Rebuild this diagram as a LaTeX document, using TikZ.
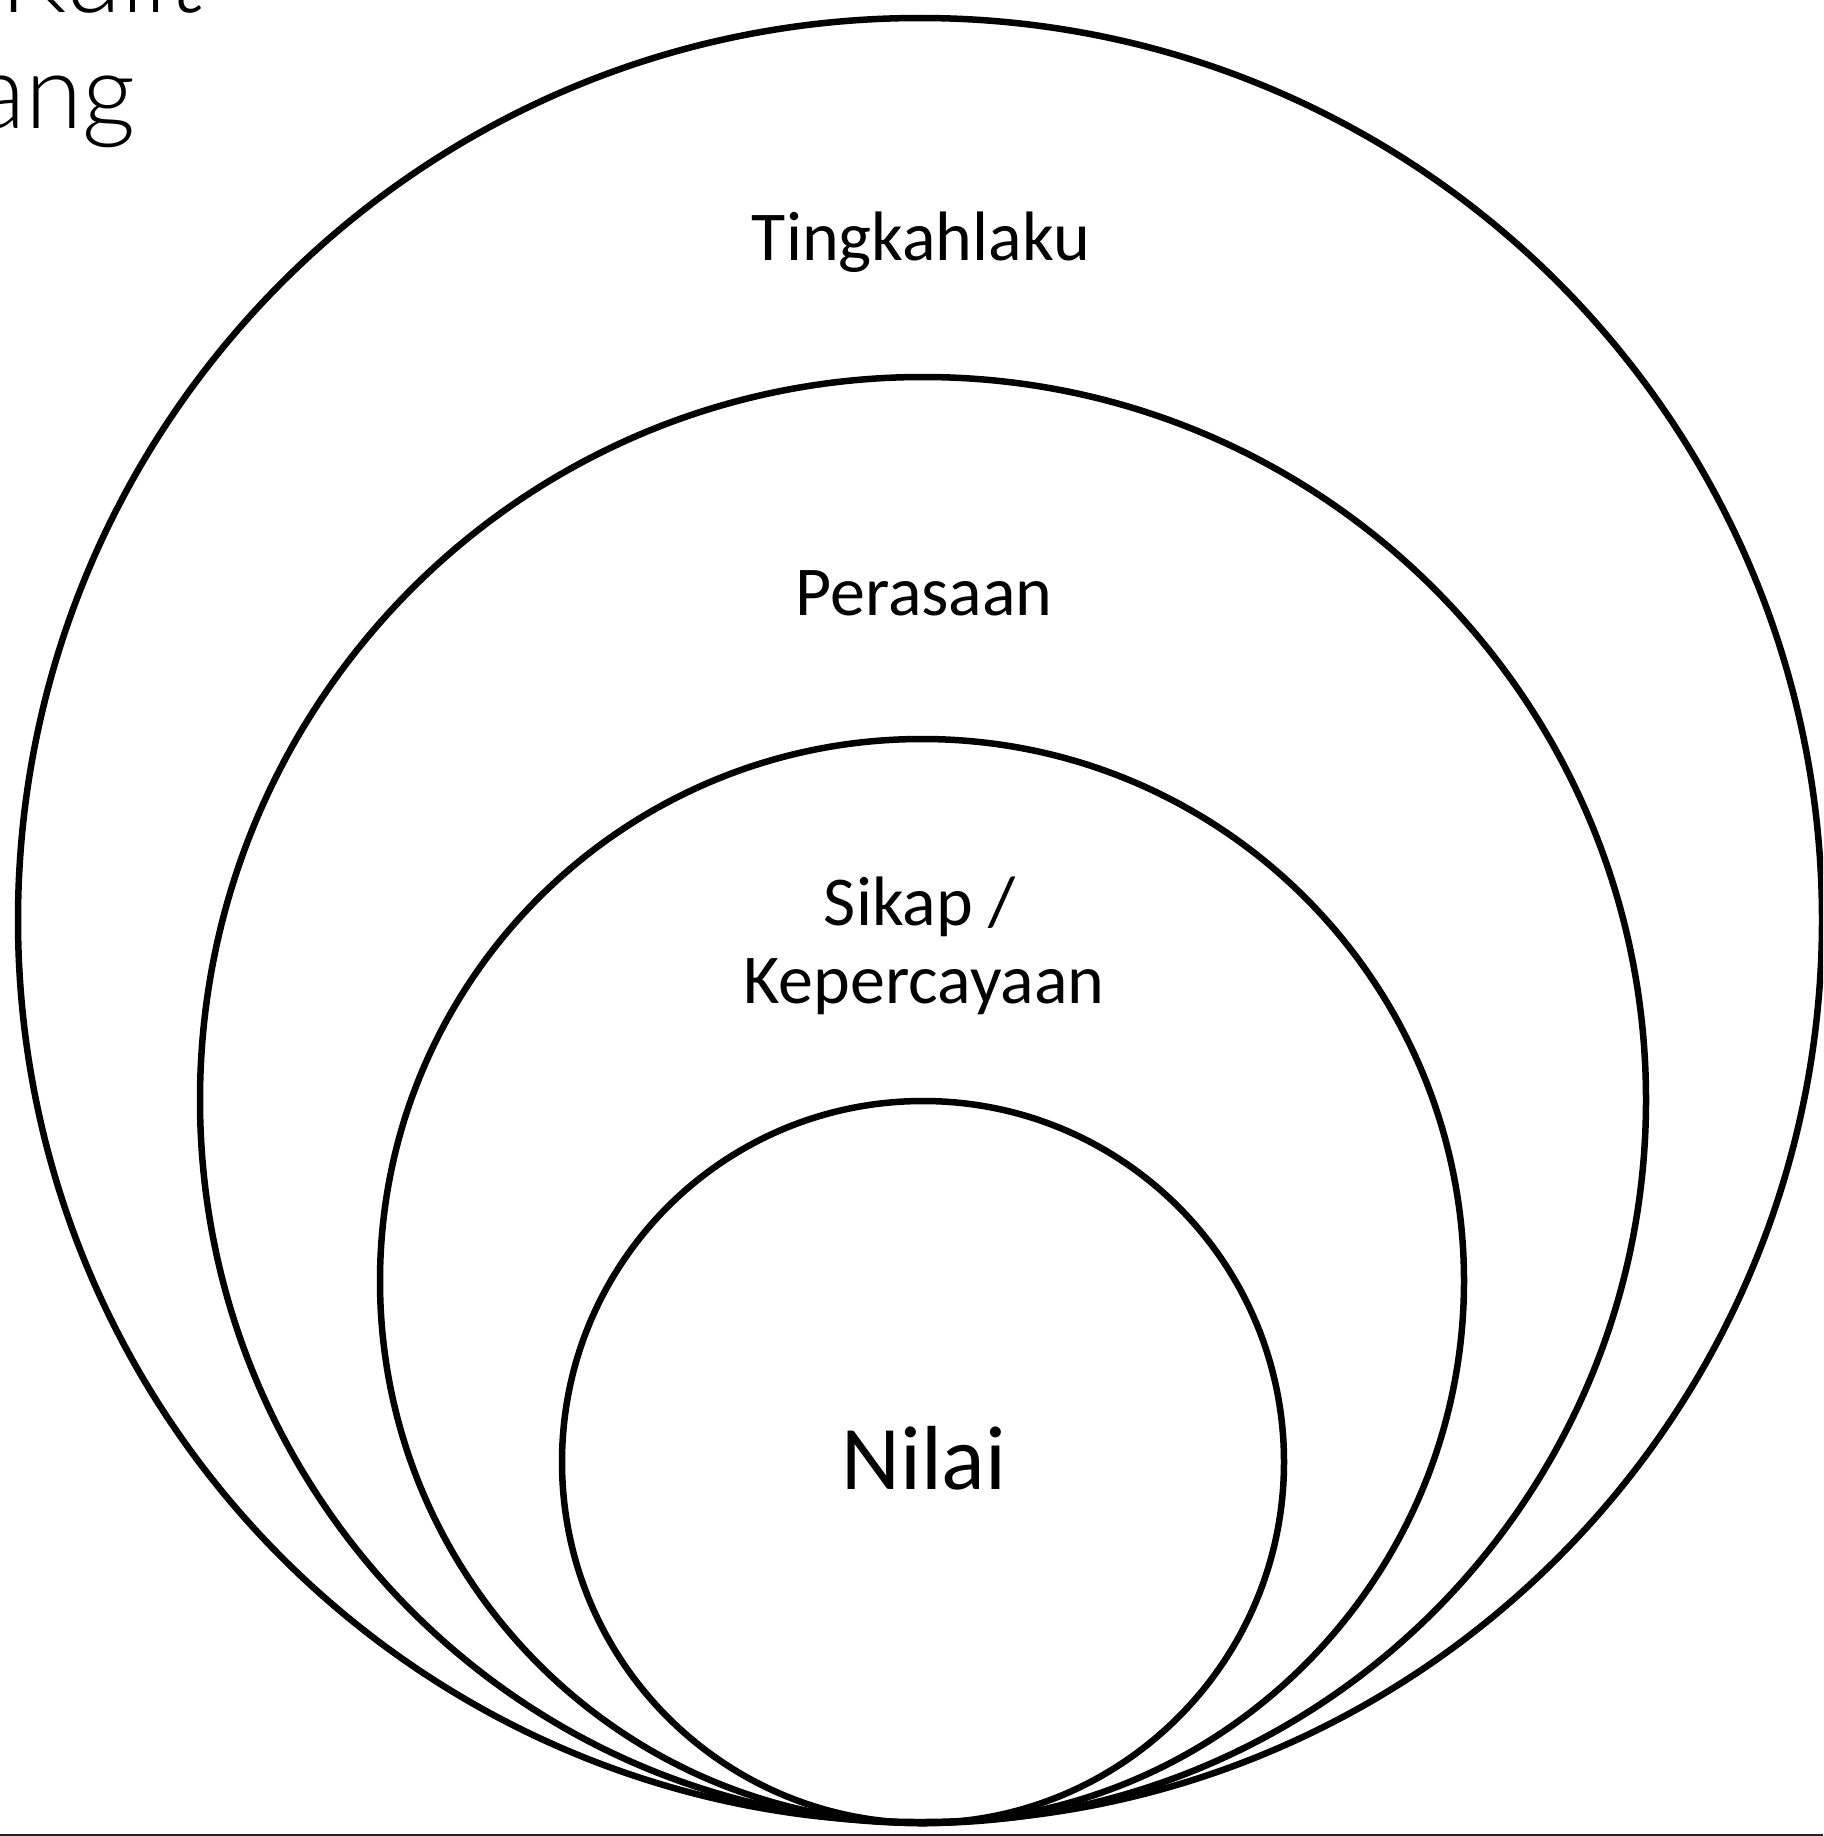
\documentclass[tikz,border=0pt]{standalone}
\usepackage{fontspec}
\setmainfont{Carlito}
\newfontfamily\titlefont{Lato}[UprightFont=* Light]
\begin{document}
\begin{tikzpicture}[x=1pt,y=-1pt,
  ring/.style={draw=black,line width=6.5pt},
  label/.style={anchor=base,inner sep=0pt,font=\fontsize{70}{80}\selectfont},
  core/.style={anchor=base,inner sep=0pt,font=\fontsize{91}{100}\selectfont},
  heading/.style={anchor=base east,inner sep=0pt,font=\titlefont\fontsize{104}{115}\selectfont}]
\useasboundingbox (0,0) rectangle (1823,1836);
\clip (0,0) rectangle (1823,1836);
\fill[white] (0,0) rectangle (1823,1836);

% heading, partly cut off at the page corner
\node[heading] (kulit) at (203,13) {Kulit};
\node[heading] (bawang) at (136,128) {Bawang};

% nested layers, all touching at the bottom
\draw[ring] (920,920) circle (902);
\draw[ring] (923,1100) circle (723);
\draw[ring] (922,1281) circle (542);
\draw[ring] (923,1462) circle (361);

% layer labels
\node[label] (tingkahlaku) at (921,260) {Tingkahlaku};
\node[label] (perasaan) at (924,615) {Perasaan};
\node[label] (sikap) at (920,925) {Sikap /};
\node[label] (kepercayaan) at (924,1003) {Kepercayaan};
\node[core] (nilai) at (924,1489) {Nilai};

% rule along the bottom edge
\draw[black!85,line width=2pt] (0,1835) -- (1823,1835);
\end{tikzpicture}
\end{document}
